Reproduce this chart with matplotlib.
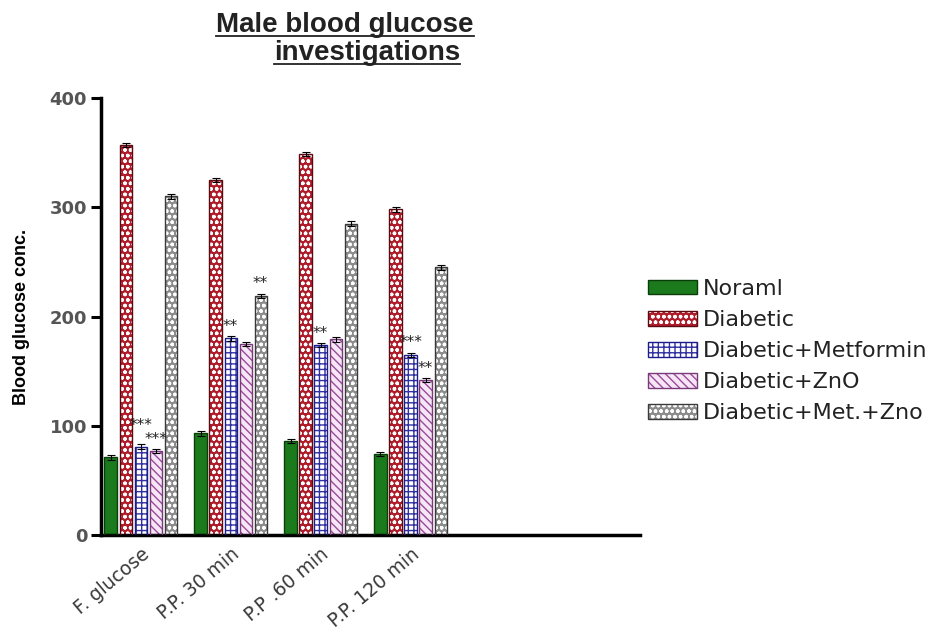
import numpy as np
import matplotlib.pyplot as plt
import matplotlib.transforms as mtransforms
from matplotlib.patches import Patch
from matplotlib.legend_handler import HandlerTuple
from matplotlib.lines import Line2D

plt.rcParams['hatch.linewidth'] = 1.0

groups = ['F. glucose', 'P.P. 30 min', 'P.P .60 min', 'P.P. 120 min']
series = ['Noraml', 'Diabetic', 'Diabetic+Metformin', 'Diabetic+ZnO', 'Diabetic+Met.+Zno']

normal = [71, 93, 86, 74]
diabetic = [357, 325, 349, 298]
metformin = [81, 180, 174, 165]
zno = [77, 175, 179, 142]
met_zno = [310, 219, 285, 245]
sem = [2, 2, 2, 2]

# (group, series, stars)
stars = [(0, 2, '***'), (0, 3, '***'), (1, 2, '**'), (1, 4, '**'),
         (2, 2, '**'), (3, 2, '***'), (3, 3, '**')]

values = [normal, diabetic, metformin, zno, met_zno]

# face, hatch, hatch colour, outline
styles = [
    ('#1b7a1b', '', '#1b7a1b', '#0b3d0b'),
    ('#b01c2a', 'ooo', 'white', '#5a0a10'),
    ('white', '+++', '#3030a0', '#1c1c8a'),
    ('#f6e6f6', '\\\\\\\\', '#9a4a9a', '#7a3a7a'),
    ('#8c8c8c', 'ooo', 'white', '#3a3a3a'),
]

fig = plt.figure(figsize=(9.46, 6.3), dpi=100)
ax = fig.add_axes([0.1068, 0.1508, 0.5697, 0.6936])

x = np.arange(len(groups))
slot = 0.167
w = 0.135

for j, vals in enumerate(values):
    face, hatch, hcol, edge = styles[j]
    pos = x + (j - 2) * slot
    ax.bar(pos, vals, w, color=face, edgecolor=hcol, hatch=hatch, linewidth=0, zorder=2)
    ax.bar(pos, vals, w, fill=False, edgecolor=edge, linewidth=1, zorder=3)
    ax.errorbar(pos, vals, yerr=sem, fmt='none', ecolor='black', elinewidth=0.8,
                capsize=3, capthick=0.8, zorder=4)

for g, s, txt in stars:
    lift = 4
    # the first-group stars sit on top of each other in the original, so push one up
    if g == 0 and s == 2:
        lift = 12
    ax.text(x[g] + (s - 2) * slot, values[s][g] + lift, txt, ha='center', va='bottom',
            fontsize=11, color='#222222', zorder=5)

ax.set_xlim(-0.44, 5.55)
ax.set_ylim(0, 400)
ax.set_yticks([0, 100, 200, 300, 400])
ax.set_xticks(x)
ax.set_xticklabels(groups, rotation=40, ha='right', va='top', rotation_mode='anchor',
                   fontsize=13.5, color='#3a3a3a')
shift = mtransforms.ScaledTranslation(-8 / 100, 0, fig.dpi_scale_trans)
for lab in ax.get_xticklabels():
    lab.set_transform(lab.get_transform() + shift)
ax.tick_params(axis='x', length=0, pad=7)
ax.tick_params(axis='y', length=7, width=2.2, labelsize=13, labelcolor='#555555', pad=3)
for lab in ax.get_yticklabels():
    lab.set_fontweight('bold')
ax.spines['top'].set_visible(False)
ax.spines['right'].set_visible(False)
ax.spines['left'].set_linewidth(2.5)
ax.spines['bottom'].set_linewidth(2.5)

ax.set_ylabel('Blood glucose conc.', fontsize=13, fontweight='bold',
              family='Liberation Sans', labelpad=14)

handles = []
for face, hatch, hcol, edge in styles:
    handles.append((Patch(facecolor=face, edgecolor=hcol, hatch=hatch, linewidth=0),
                    Patch(fill=False, edgecolor=edge, linewidth=1)))
fig.legend(handles, series, handler_map={tuple: HandlerTuple(ndivide=1)},
           loc='center left', bbox_to_anchor=(648 / 946, 1 - 351 / 630),
           frameon=False, fontsize=16, handlelength=2.2, handleheight=0.65,
           handletextpad=0.25, labelspacing=0.5, borderpad=0, borderaxespad=0,
           labelcolor='#222222')

# title, two underlined lines
t1 = fig.text(345 / 946, 1 - 25 / 630, 'Male blood glucose', ha='center', va='center',
              fontsize=20, fontweight='bold', family='Liberation Sans', color='#222222')
t2 = fig.text(367 / 946, 1 - 53 / 630, 'investigations', ha='center', va='center',
              fontsize=20, fontweight='bold', family='Liberation Sans', color='#222222')
fig.canvas.draw()
r = fig.canvas.get_renderer()
for t in (t1, t2):
    bb = t.get_window_extent(r)
    yl = bb.y0 + 2
    fig.add_artist(Line2D([bb.x0 / fig.bbox.width, bb.x1 / fig.bbox.width],
                          [yl / fig.bbox.height, yl / fig.bbox.height],
                          transform=fig.transFigure, color='#222222', linewidth=1.3))

fig.savefig('out.png', dpi=100)
